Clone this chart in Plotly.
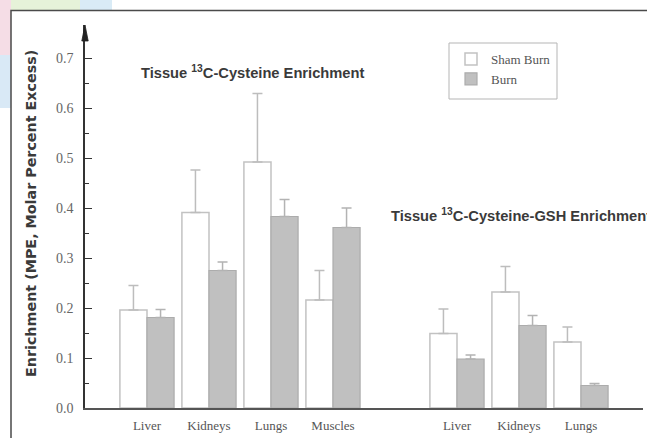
import plotly.graph_objects as go

# ---- data ----
tissues = ["Liver", "Kidneys", "Lungs", "Muscles", "Liver", "Kidneys", "Lungs"]
panel = ["Cysteine", "Cysteine", "Cysteine", "Cysteine", "GSH", "GSH", "GSH"]
sham = [0.196, 0.391, 0.492, 0.216, 0.149, 0.232, 0.132]
sham_err = [0.049, 0.085, 0.137, 0.059, 0.049, 0.051, 0.030]
burn = [0.181, 0.275, 0.383, 0.361, 0.098, 0.165, 0.045]
burn_err = [0.016, 0.017, 0.034, 0.039, 0.008, 0.020, 0.004]
y_ticks = [0.0, 0.1, 0.2, 0.3, 0.4, 0.5, 0.6, 0.7]

# category positions: one empty slot between the two panels
xpos = []
p = 0
for i, pn in enumerate(panel):
    if i > 0 and pn != panel[i - 1]:
        p += 1
    xpos.append(p)
    p += 1

W, H = 647, 438
ML, MR, MT, MB = 85, 4, 25, 30
PW, PH = W - ML - MR, H - MT - MB


def px(x):
    return (x - ML) / PW


def py(y):
    return 1 - (y - MT) / PH


serif = "Liberation Serif"
sans = "Liberation Sans"

fig = go.Figure()
fig.add_trace(go.Bar(
    x=xpos, y=sham, name="Sham Burn",
    marker=dict(color="white", line=dict(color="#c2c2c2", width=1.5)),
    error_y=dict(type="data", symmetric=False, array=sham_err,
                 arrayminus=[0] * len(sham), color="#bdbdbd", thickness=1.5, width=5),
))
fig.add_trace(go.Bar(
    x=xpos, y=burn, name="Burn",
    marker=dict(color="#c0c0c0", line=dict(color="#acacac", width=1.2)),
    error_y=dict(type="data", symmetric=False, array=burn_err,
                 arrayminus=[0] * len(burn), color="#b3b3b3", thickness=1.5, width=5),
))

shapes = [
    # pastel blob outside the frame (top-left)
    dict(type="rect", xref="paper", yref="paper", x0=px(0), x1=px(80), y0=py(11), y1=py(0),
         fillcolor="#e6f2d9", line_width=0, layer="below"),
    dict(type="rect", xref="paper", yref="paper", x0=px(80), x1=px(112), y0=py(11), y1=py(0),
         fillcolor="#d9ebf6", line_width=0, layer="below"),
    dict(type="rect", xref="paper", yref="paper", x0=px(0), x1=px(11), y0=py(55), y1=py(0),
         fillcolor="#f5dde6", line_width=0, layer="below"),
    dict(type="rect", xref="paper", yref="paper", x0=px(0), x1=px(11), y0=py(108), y1=py(55),
         fillcolor="#d9e9f6", line_width=0, layer="below"),
    # outer frame
    dict(type="rect", xref="paper", yref="paper", x0=px(11), x1=px(660), y0=py(460), y1=py(10.5),
         line=dict(color="#4a4a4a", width=1.5), fillcolor="rgba(0,0,0,0)"),
    # legend box
    dict(type="rect", xref="paper", yref="paper", x0=px(449), x1=px(557), y0=py(99), y1=py(43),
         line=dict(color="#b5b5b5", width=1), fillcolor="rgba(0,0,0,0)"),
    # arrow head on the y axis (pointing up)
    dict(type="path", xref="paper", yref="paper", xsizemode="pixel", ysizemode="pixel",
         xanchor=0, yanchor=1, path="M -3.2,-16 L 0,0 L 3.2,-16 Z",
         fillcolor="#222222", line=dict(color="#222222", width=0.8)),
]

annotations = [
    dict(text="Tissue <sup>13</sup>C-Cysteine Enrichment", xref="paper", yref="paper",
         x=px(253), y=py(72), xanchor="center", yanchor="middle", showarrow=False,
         font=dict(family=sans, size=14.7, color="#3a3a3a", weight="bold")),
    dict(text="Tissue <sup>13</sup>C-Cysteine-GSH Enrichment", xref="paper", yref="paper",
         x=px(389), y=py(215), xanchor="left", yanchor="middle", showarrow=False,
         font=dict(family=sans, size=14.7, color="#3a3a3a", weight="bold")),
    dict(text="Enrichment (MPE, Molar Percent Excess)", xref="paper", yref="paper",
         x=px(31), y=py(214), xanchor="center", yanchor="middle", textangle=-90,
         showarrow=False, font=dict(family="DejaVu Sans", size=14.3, color="#3a3a3a", weight="bold")),
]

fig.update_layout(
    width=W, height=H,
    margin=dict(l=ML, r=MR, t=MT, b=MB, pad=0),
    paper_bgcolor="white", plot_bgcolor="white",
    barmode="group", bargap=0.126, bargroupgap=0,
    showlegend=True,
    legend=dict(x=px(451), y=py(44), xanchor="left", yanchor="top",
                bgcolor="rgba(0,0,0,0)", borderwidth=0,
                font=dict(family=serif, size=13, color="#555555")),
    shapes=shapes,
    annotations=annotations,
)
fig.update_xaxes(
    range=[-1, 8], tickvals=xpos, ticktext=tissues,
    showline=True, linecolor="#555555", linewidth=1.5,
    showgrid=False, zeroline=False, ticks="", ticklabelstandoff=5,
    tickfont=dict(family=serif, size=13, color="#555555"),
)
fig.update_yaxes(
    range=[0, 0.766], tickvals=y_ticks, ticktext=[f"{v:.1f}" for v in y_ticks],
    showline=True, linecolor="#333333", linewidth=1.5,
    showgrid=False, zeroline=False,
    ticks="inside", ticklen=7, tickwidth=1.2, tickcolor="#333333",
    minor=dict(tickvals=[0.05, 0.15, 0.25, 0.35, 0.45, 0.55, 0.65], ticks="inside",
               ticklen=4, tickwidth=1, tickcolor="#333333"),
    ticklabelstandoff=7,
    tickfont=dict(family=serif, size=14, color="#666666"),
)

fig.write_html("out.html")
